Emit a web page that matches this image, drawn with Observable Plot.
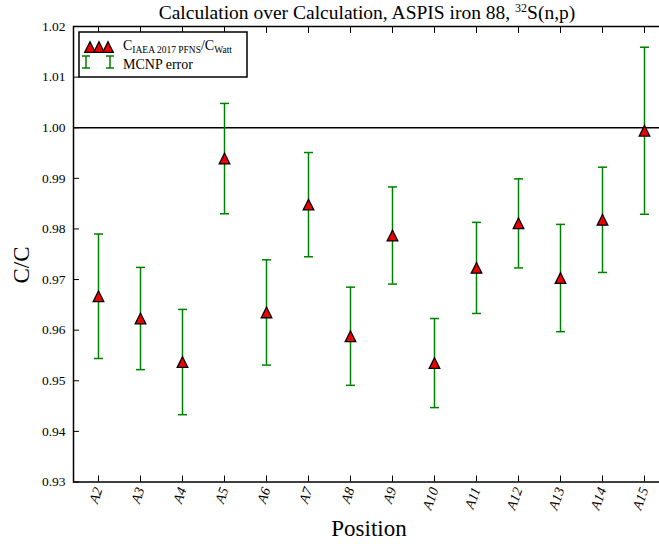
<!DOCTYPE html>
<html>
<head>
<meta charset="utf-8">
<script src="https://cdn.jsdelivr.net/npm/d3@7"></script>
<script src="https://cdn.jsdelivr.net/npm/@observablehq/plot@0.6"></script>
<style>
  html, body { margin: 0; padding: 0; background: white; overflow: hidden; }
  #chart { width: 659px; height: 544px; overflow: hidden; }
  #chart svg { max-width: none !important; display: block; }
</style>
</head>
<body>
<div id="chart"></div>
<script>
const positions = ["A2","A3","A4","A5","A6","A7","A8","A9","A10","A11","A12","A13","A14","A15"];
const ratio = [0.9667, 0.9623, 0.9537, 0.9939, 0.9635, 0.9848, 0.9588, 0.9787, 0.9535, 0.9723, 0.9811, 0.9703, 0.9818, 0.9994];
const mcnpError = [0.0123, 0.0101, 0.0104, 0.0109, 0.0104, 0.0103, 0.0097, 0.0096, 0.0088, 0.0090, 0.0088, 0.0106, 0.0104, 0.0165];
const yTicks = [0.93, 0.94, 0.95, 0.96, 0.97, 0.98, 0.99, 1.00, 1.01, 1.02];
const referenceLine = [1.0];

const data = positions.map((p, i) => ({
  position: p,
  ratio: ratio[i],
  lo: ratio[i] - mcnpError[i],
  hi: ratio[i] + mcnpError[i]
}));

const capSymbol = {
  draw(ctx, size) {
    const r = Math.sqrt(size / Math.PI);
    ctx.moveTo(-r, 0);
    ctx.lineTo(r, 0);
  }
};
// matplotlib-style "^" marker: isosceles, base = height, centred on bbox
const triSymbol = {
  draw(ctx, size) {
    const r = Math.sqrt(size / Math.PI);
    ctx.moveTo(0, -r);
    ctx.lineTo(r, r);
    ctx.lineTo(-r, r);
    ctx.closePath();
  }
};

const serif = "Liberation Serif";
const green = "#008000";

const plot = Plot.plot({
  width: 680,
  height: 544,
  marginTop: 26,
  marginLeft: 73,
  marginRight: 12,
  marginBottom: 62.5,
  style: { fontFamily: serif, fontSize: "13.5px", color: "black", background: "white", overflow: "visible" },
  x: { type: "point", domain: positions, padding: 0.5, label: null },
  y: { domain: [0.93, 1.02], label: null },
  marks: [
    Plot.ruleY(referenceLine, { stroke: "black", strokeWidth: 1.5 }),
    Plot.ruleX(data, { x: "position", y1: "lo", y2: "hi", stroke: green, strokeWidth: 1.5 }),
    Plot.dot(data, { x: "position", y: "lo", symbol: capSymbol, r: 4.5, stroke: green, strokeWidth: 1.5 }),
    Plot.dot(data, { x: "position", y: "hi", symbol: capSymbol, r: 4.5, stroke: green, strokeWidth: 1.5 }),
    Plot.dot(data, { x: "position", y: "ratio", symbol: triSymbol, r: 5.3, fill: "#ee0000", stroke: "black", strokeWidth: 1.3 }),
    Plot.axisY({ ticks: yTicks, tickFormat: d3.format(".2f"), tickSize: -6, tickPadding: 14, label: null }),
    Plot.axisX({ anchor: "bottom", tickSize: -6, tickPadding: 12, tickRotate: -70, label: null, fontStyle: "italic", fontSize: 14 }),
    Plot.axisX({ anchor: "top", tickSize: -6, tickFormat: () => "", label: null }),
    Plot.frame({ stroke: "black", strokeWidth: 1.5 })
  ]
});

document.getElementById("chart").appendChild(plot);

const svg = d3.select(plot);

// Title
const title = svg.append("text")
  .attr("x", 367).attr("y", 19)
  .attr("text-anchor", "middle")
  .attr("font-family", serif).attr("font-size", 19.5).attr("fill", "black");
title.append("tspan").text("Calculation over Calculation, ASPIS iron 88, ");
title.append("tspan").attr("dy", -7).attr("font-size", 12).text("32");
title.append("tspan").attr("dy", 7).text("S(n,p)");

// Axis labels
svg.append("text")
  .attr("transform", "translate(29,265) rotate(-90)")
  .attr("text-anchor", "middle")
  .attr("font-family", serif).attr("font-size", 23).attr("fill", "black")
  .text("C/C");

svg.append("text")
  .attr("x", 369).attr("y", 536)
  .attr("text-anchor", "middle")
  .attr("font-family", serif).attr("font-size", 23).attr("fill", "black")
  .text("Position");

// Legend
const lg = svg.append("g").attr("text-anchor", "start");
lg.append("rect").attr("x", 79).attr("y", 32).attr("width", 168).attr("height", 45)
  .attr("fill", "white").attr("stroke", "black").attr("stroke-width", 1.5);
[90, 99, 108].forEach(x => {
  lg.append("path").attr("d", `M${x},${41.7}L${x + 5.3},${52.3}L${x - 5.3},${52.3}Z`)
    .attr("fill", "#ee0000").attr("stroke", "black").attr("stroke-width", 1.3);
});
[86, 110].forEach(x => {
  lg.append("path").attr("d", `M${x},56V68M${x-4},56H${x+4}M${x-4},68H${x+4}`)
    .attr("stroke", green).attr("stroke-width", 1.5).attr("fill", "none");
});
const t1 = lg.append("text").attr("x", 123).attr("y", 50).attr("text-anchor", "start")
  .attr("font-family", serif).attr("font-size", 14).attr("fill", "black");
t1.append("tspan").text("C");
t1.append("tspan").attr("dy", 3).attr("font-size", 9.5).text("IAEA 2017 PFNS");
t1.append("tspan").attr("dy", -3).text("/C");
t1.append("tspan").attr("dy", 3).attr("font-size", 9.5).text("Watt");
lg.append("text").attr("x", 123).attr("y", 69).attr("text-anchor", "start")
  .attr("font-family", serif).attr("font-size", 14).attr("fill", "black")
  .text("MCNP error");
</script>
</body>
</html>
